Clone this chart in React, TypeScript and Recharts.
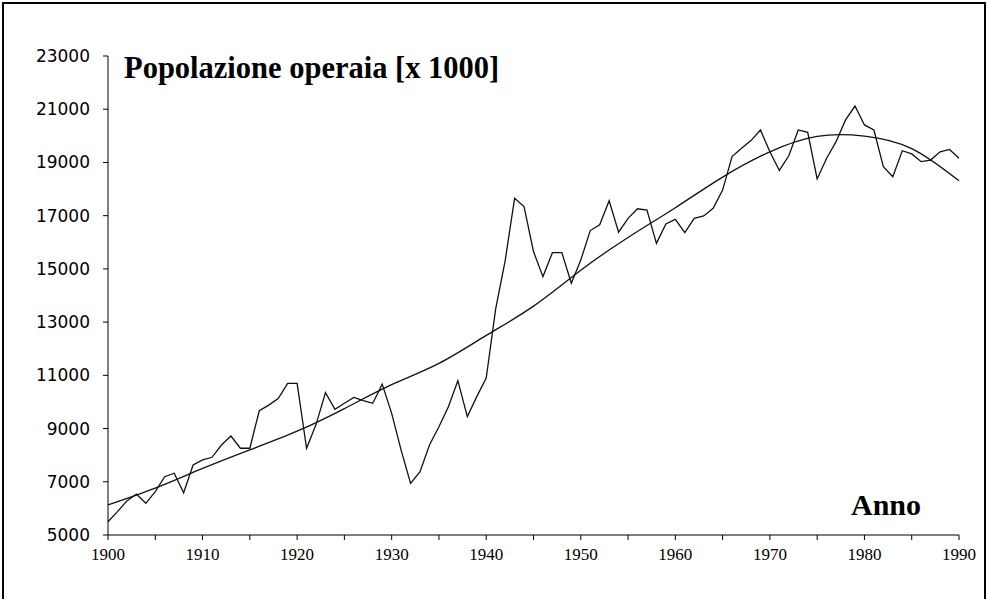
import React from 'react';
import { LineChart, Line, XAxis, YAxis } from 'recharts';

// yearly observations 1900..1990
const years: number[] = [
  1900, 1901, 1902, 1903, 1904, 1905, 1906, 1907, 1908, 1909,
  1910, 1911, 1912, 1913, 1914, 1915, 1916, 1917, 1918, 1919,
  1920, 1921, 1922, 1923, 1924, 1925, 1926, 1927, 1928, 1929,
  1930, 1931, 1932, 1933, 1934, 1935, 1936, 1937, 1938, 1939,
  1940, 1941, 1942, 1943, 1944, 1945, 1946, 1947, 1948, 1949,
  1950, 1951, 1952, 1953, 1954, 1955, 1956, 1957, 1958, 1959,
  1960, 1961, 1962, 1963, 1964, 1965, 1966, 1967, 1968, 1969,
  1970, 1971, 1972, 1973, 1974, 1975, 1976, 1977, 1978, 1979,
  1980, 1981, 1982, 1983, 1984, 1985, 1986, 1987, 1988, 1989,
  1990,
];

const workers: number[] = [
  5500, 5880, 6280, 6540, 6190, 6630, 7190, 7320, 6590, 7630,
  7820, 7920, 8380, 8720, 8260, 8260, 9670, 9880, 10130, 10700,
  10700, 8260, 9150, 10350, 9720, 9950, 10170, 10050, 9950, 10670,
  9570, 8190, 6940, 7380, 8380, 9070, 9820, 10800, 9450, 10200,
  10900, 13500, 15300, 17650, 17340, 15650, 14710, 15610, 15610, 14460,
  15330, 16440, 16660, 17560, 16380, 16900, 17260, 17210, 15960, 16690,
  16860, 16360, 16900, 16990, 17280, 17960, 19220, 19530, 19820, 20220,
  19400, 18700, 19250, 20220, 20130, 18380, 19160, 19780, 20600, 21120,
  20410, 20220, 18840, 18460, 19440, 19320, 19030, 19090, 19400, 19490,
  19160,
];

// smooth trend curve, read every 5 years
const trendYears: number[] = [
  1900, 1905, 1910, 1915, 1920, 1925, 1930, 1935, 1940, 1945,
  1950, 1955, 1960, 1965, 1970, 1975, 1980, 1985, 1990,
];
const trendValues: number[] = [
  6130, 6760, 7500, 8200, 8900, 9750, 10650, 11450, 12500, 13600,
  14950, 16180, 17300, 18450, 19400, 19980, 19990, 19520, 18310,
];

const xTicks: number[] = [
  1900, 1905, 1910, 1915, 1920, 1925, 1930, 1935, 1940, 1945,
  1950, 1955, 1960, 1965, 1970, 1975, 1980, 1985, 1990,
];
const yTicks: number[] = [5000, 7000, 9000, 11000, 13000, 15000, 17000, 19000, 21000, 23000];

const data = years.map((year, i) => {
  const t = trendYears.indexOf(year);
  return { year, value: workers[i], trend: t >= 0 ? trendValues[t] : null };
});

const serif = '"Liberation Serif", "Times New Roman", serif';

const App: React.FC = () => {
  return (
    <div
      style={{
        position: 'fixed', left: 0, top: 0, width: 988, height: 599,
        overflow: 'hidden', background: '#fff',
      }}
    >
      <LineChart
        width={988}
        height={599}
        data={data}
        margin={{ top: 56, right: 29, left: 0, bottom: 34 }}
        style={{ position: 'absolute', left: 0, top: 0 }}
      >
        <XAxis
          dataKey="year"
          type="number"
          domain={[1900, 1990]}
          ticks={xTicks}
          interval={0}
          height={30}
          tickSize={5}
          tickMargin={8}
          stroke="#000"
          tick={{ fill: '#000', fontSize: 17, fontFamily: '"Liberation Sans Narrow", "Liberation Serif", serif' }}
          tickFormatter={(v) => (v % 10 === 0 ? `${v}` : '')}
        />
        <YAxis
          type="number"
          domain={[5000, 23000]}
          ticks={yTicks}
          interval={0}
          width={108}
          tickSize={5}
          tickMargin={13}
          stroke="#000"
          tick={{ fill: '#000', fontSize: 17, fontFamily: '"DejaVu Sans", sans-serif' }}
        />
        <Line
          type="linear"
          dataKey="value"
          stroke="#111"
          strokeWidth={1.3}
          dot={false}
          isAnimationActive={false}
        />
        <Line
          type="natural"
          dataKey="trend"
          stroke="#111"
          strokeWidth={1.3}
          dot={false}
          connectNulls
          isAnimationActive={false}
        />
      </LineChart>
      <div
        style={{
          position: 'absolute', left: 124, top: 53, fontFamily: serif, fontWeight: 'bold',
          fontSize: 30.5, lineHeight: '30px', whiteSpace: 'nowrap', color: '#000',
        }}
      >
        Popolazione operaia [x 1000]
      </div>
      <div
        style={{
          position: 'absolute', left: 851, top: 490, fontFamily: serif, fontWeight: 'bold',
          fontSize: 30, lineHeight: '30px', whiteSpace: 'nowrap', color: '#000',
        }}
      >
        Anno
      </div>
      <div
        style={{
          position: 'absolute', left: 2, top: 2, width: 984, height: 640, zIndex: 10,
          border: '2px solid #000', boxSizing: 'border-box', pointerEvents: 'none',
        }}
      />
    </div>
  );
};

export default App;
